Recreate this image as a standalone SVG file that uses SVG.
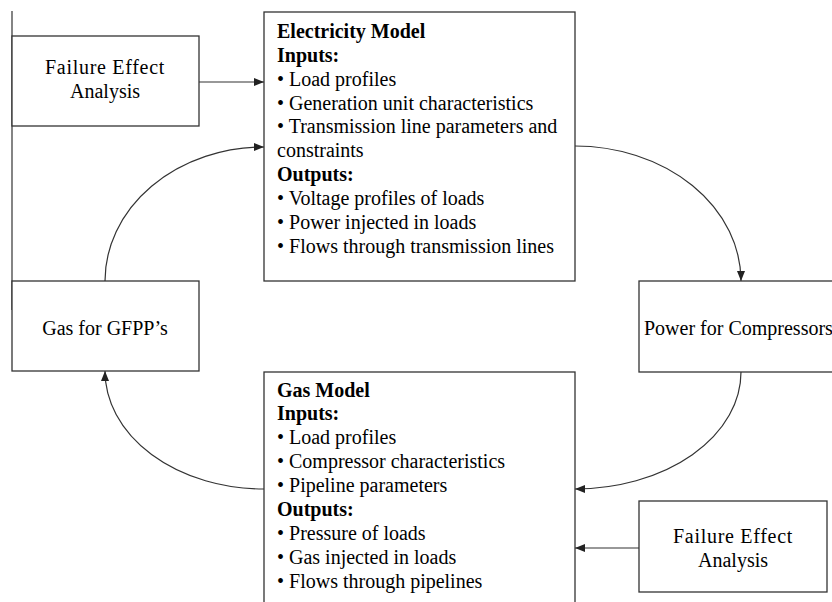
<svg xmlns="http://www.w3.org/2000/svg" width="832" height="602" viewBox="0 0 832 602">
  <style>
    .box { fill: #ffffff; stroke: #333333; stroke-width: 1.3; }
    .link { fill: none; stroke: #333333; stroke-width: 1.2; }
    text { font-family: "Liberation Serif", "Times New Roman", serif; font-size: 20px; fill: #000000; }
    .b { font-weight: bold; }
    .c { text-anchor: middle; }
    .w { letter-spacing: 0.7px; }
  </style>
  <defs>
    <marker id="arrow" viewBox="0 0 10 8" refX="10" refY="4" markerWidth="10" markerHeight="8" markerUnits="userSpaceOnUse" orient="auto">
      <path d="M0,0 L10,4 L0,8 Z" fill="#222222"/>
    </marker>
  </defs>

  <rect width="832" height="602" fill="#ffffff"/>

  <!-- connectors -->
  <g id="connectors">
    <line class="link" x1="12" y1="11" x2="12" y2="310"/>
    <line class="link" x1="199" y1="82" x2="264" y2="82" marker-end="url(#arrow)"/>
    <path class="link" d="M105,281 A159,134 0 0 1 264,147" marker-end="url(#arrow)"/>
    <path class="link" d="M575,146 A166,135 0 0 1 741,281" marker-end="url(#arrow)"/>
    <path class="link" d="M741,372 A166,117 0 0 1 575,489" marker-end="url(#arrow)"/>
    <path class="link" d="M264,489 A159,118 0 0 1 105,371" marker-end="url(#arrow)"/>
    <line class="link" x1="639" y1="548" x2="575" y2="548" marker-end="url(#arrow)"/>
  </g>

  <!-- nodes -->
  <g id="failure-top">
    <rect class="box" x="12" y="36" width="187" height="90"/>
    <text class="c w" x="105" y="74">Failure Effect</text>
    <text class="c" x="105" y="98">Analysis</text>
  </g>

  <g id="electricity-model">
    <rect class="box" x="264" y="12" width="311" height="269"/>
    <text x="277" y="38" class="b">Electricity Model</text>
    <text x="277" y="62" class="b">Inputs:</text>
    <text x="277" y="86">• Load profiles</text>
    <text x="277" y="110">• Generation unit characteristics</text>
    <text x="277" y="133">• Transmission line parameters and</text>
    <text x="277" y="157">constraints</text>
    <text x="277" y="181" class="b">Outputs:</text>
    <text x="277" y="205">• Voltage profiles of loads</text>
    <text x="277" y="229">• Power injected in loads</text>
    <text x="277" y="253">• Flows through transmission lines</text>
  </g>

  <g id="gas-for-gfpp">
    <rect class="box" x="12" y="281" width="187" height="90"/>
    <text class="c" x="105" y="335">Gas for GFPP’s</text>
  </g>

  <g id="power-for-compressors">
    <rect class="box" x="639" y="281" width="200" height="91"/>
    <text x="644" y="335">Power for Compressors</text>
  </g>

  <g id="gas-model">
    <rect class="box" x="264" y="372" width="311" height="240"/>
    <text x="277" y="397" class="b">Gas Model</text>
    <text x="277" y="420" class="b">Inputs:</text>
    <text x="277" y="444">• Load profiles</text>
    <text x="277" y="468">• Compressor characteristics</text>
    <text x="277" y="492">• Pipeline parameters</text>
    <text x="277" y="516" class="b">Outputs:</text>
    <text x="277" y="540">• Pressure of loads</text>
    <text x="277" y="564">• Gas injected in loads</text>
    <text x="277" y="588">• Flows through pipelines</text>
  </g>

  <g id="failure-bottom">
    <rect class="box" x="639" y="501" width="188" height="91"/>
    <text class="c w" x="733" y="543">Failure Effect</text>
    <text class="c" x="733" y="567">Analysis</text>
  </g>
</svg>
